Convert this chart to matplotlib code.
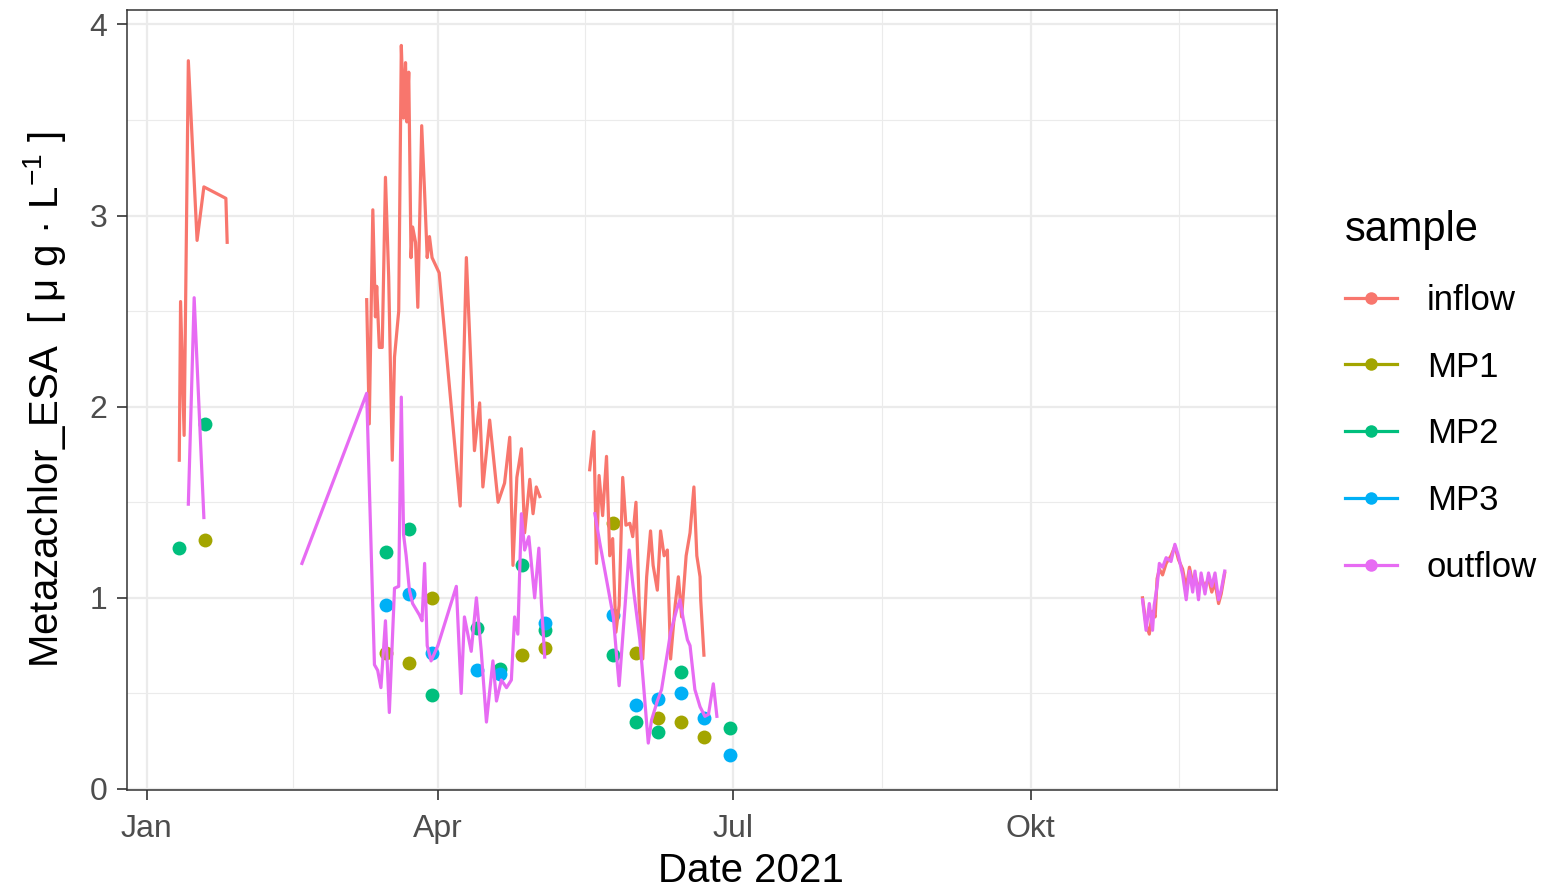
import numpy as np
import pandas as pd
import matplotlib
matplotlib.use('Agg')
import matplotlib.pyplot as plt
import matplotlib.dates as mdates
from matplotlib.lines import Line2D

plt.rcParams['font.family'] = ['Liberation Sans', 'DejaVu Sans']
plt.rcParams['mathtext.fontset'] = 'custom'
plt.rcParams['mathtext.rm'] = 'Liberation Sans'

# ---------------- data (day offsets from 2021-01-01) ----------------
inflow_days = [10, 10.4, 11.5, 12.8, 15.5, 17.6, 24.4, 24.8,
               45,
               67.9, 68.7, 69.8, 70.6, 71.0, 71.8, 72.7, 73.7, 74.7, 75.8, 76.5, 77.8,
               78.6, 79.3, 79.9, 80.3, 80.9, 81.6, 82.1, 83.0, 83.7, 84.9, 85.8, 86.6,
               87.3, 88.1, 90.3, 96.8, 98.7, 101.2, 102.8, 103.8, 105.9, 108.5, 110.5,
               112.1, 113.1, 114.3, 115.7, 116.7, 118.3, 119.3, 120.3, 121.4,
               130,
               136.8, 138.1, 138.9, 139.7, 140.8, 142.0, 143.0, 143.9, 144.9, 145.9,
               147.0, 148.0, 149.2, 150.1, 151.1, 152.1, 153.2, 154.4, 155.6, 156.4,
               157.7, 158.7, 159.8, 160.8, 161.8, 163.2, 164.2, 165.2, 166.6, 167.8,
               169.0, 169.9, 170.9, 171.1, 172.1,
               240,
               307.6, 308.7, 309.7, 310.7, 311.5, 312.1, 312.8, 313.8, 314.9, 316.4,
               317.6, 318.7, 320.0, 321.1, 322.1, 323.1, 323.8, 324.9, 325.7, 326.9,
               328.0, 329.0, 330.0, 331.1, 331.9, 333.0]
inflow_vals = [1.72, 2.55, 1.85, 3.81, 2.87, 3.15, 3.09, 2.86,
               np.nan,
               2.56, 1.91, 3.03, 2.47, 2.63, 2.31, 2.31, 3.20, 2.68, 1.72, 2.26, 2.50,
               3.89, 3.51, 3.80, 3.49, 3.75, 2.78, 2.94, 2.86, 2.52, 3.47, 3.12, 2.78,
               2.89, 2.78, 2.70, 1.48, 2.78, 1.77, 2.02, 1.58, 1.93, 1.50, 1.60,
               1.84, 1.17, 1.63, 1.78, 1.34, 1.62, 1.44, 1.58, 1.53,
               np.nan,
               1.67, 1.87, 1.18, 1.64, 1.43, 1.74, 1.22, 1.31, 0.82, 0.96,
               1.63, 1.38, 1.39, 1.32, 1.50, 0.96, 0.68, 1.11, 1.35, 1.17,
               1.04, 1.35, 1.22, 1.25, 0.68, 0.96, 1.11, 0.90, 1.22, 1.34,
               1.58, 1.22, 1.11, 0.99, 0.70,
               np.nan,
               1.00, 0.86, 0.81, 0.93, 0.90, 1.10, 1.15, 1.12, 1.18, 1.22,
               1.27, 1.20, 1.15, 1.05, 1.16, 1.08, 1.12, 1.04, 1.10, 1.06,
               1.10, 1.03, 1.08, 0.97, 1.02, 1.13]

outflow_days = [12.8, 14.6, 17.6,
                30,
                47.9, 67.9, 70.3, 71.3, 72.3, 73.7, 74.9, 76.5, 77.8, 78.6, 79.3, 80.1,
                81.1, 82.1, 84.2, 85.0, 85.8, 86.6, 87.8, 89.9, 95.6, 97.1, 98.1, 100.2,
                101.8, 103.3, 104.9, 106.9, 108.0, 109.5, 111.1, 112.6, 113.6, 114.6,
                115.7, 116.7, 118.0, 119.8, 121.1, 121.9, 122.9,
                130,
                138.4, 139.9, 144.1, 145.9, 149.0, 150.2, 152.3, 154.9, 155.9, 157.7,
                159.0, 160.8, 161.8, 163.7, 164.7, 165.7, 167.0, 167.8, 169.3, 170.9,
                172.4, 173.5, 175.0, 176.1,
                240,
                307.6, 308.7, 309.7, 310.7, 311.2, 312.1, 312.8, 313.8, 314.9, 316.4,
                317.6, 318.7, 320.0, 321.1, 322.1, 323.1, 323.8, 324.9, 325.7, 326.9,
                328.0, 329.0, 330.0, 331.1, 331.9, 333.0]
outflow_vals = [1.49, 2.57, 1.42,
                np.nan,
                1.18, 2.07, 0.65, 0.62, 0.53, 0.88, 0.40, 1.05, 1.06, 2.05, 1.33, 1.22,
                1.04, 0.97, 0.91, 0.88, 1.18, 0.75, 0.67, 0.75, 1.06, 0.50, 0.90, 0.72,
                1.00, 0.72, 0.35, 0.67, 0.46, 0.57, 0.53, 0.57, 0.90, 0.81,
                1.44, 1.25, 1.32, 1.00, 1.26, 0.97, 0.69,
                np.nan,
                1.44, 1.29, 0.90, 0.54, 1.25, 1.06, 0.78, 0.24, 0.36, 0.46,
                0.52, 0.71, 0.82, 0.94, 0.99, 0.89, 0.78, 0.75, 0.52, 0.43,
                0.38, 0.39, 0.55, 0.38,
                np.nan,
                0.99, 0.83, 0.97, 0.83, 0.96, 1.06, 1.18, 1.16, 1.21, 1.19,
                1.28, 1.22, 1.12, 0.99, 1.14, 1.03, 1.14, 0.99, 1.13, 1.02,
                1.13, 1.06, 1.13, 0.99, 1.04, 1.14]

sample_dates = ['2021-01-11', '2021-01-19', '2021-03-16', '2021-03-23', '2021-03-30',
                '2021-04-13', '2021-04-20', '2021-04-27', '2021-05-04', '2021-05-25',
                '2021-06-01', '2021-06-08', '2021-06-15', '2021-06-22', '2021-06-30']
mp1_vals = [np.nan, 1.30, 0.71, 0.66, 1.00, np.nan, np.nan, 0.70, 0.74, 1.39,
            0.71, 0.37, 0.35, 0.27, np.nan]
mp2_vals = [1.26, 1.91, 1.24, 1.36, 0.49, 0.84, 0.63, 1.17, 0.83, 0.70,
            0.35, 0.30, 0.61, np.nan, 0.32]
mp3_vals = [np.nan, np.nan, 0.96, 1.02, 0.71, 0.62, 0.60, np.nan, 0.87, 0.91,
            0.44, 0.47, 0.50, 0.37, 0.18]

series_names = ['inflow', 'MP1', 'MP2', 'MP3', 'outflow']
series_colors = ['#F8766D', '#A3A500', '#00BF7D', '#00B0F6', '#E76BF3']
x_tick_dates = ['2021-01-01', '2021-04-01', '2021-07-01', '2021-10-01']
x_tick_labels = ['Jan', 'Apr', 'Jul', 'Okt']
y_ticks = [0, 1, 2, 3, 4]

# ---------------- plotting ----------------
start = pd.Timestamp('2021-01-01')
def days_to_num(days):
    return mdates.date2num(start) + np.asarray(days, dtype=float)

col = dict(zip(series_names, series_colors))
W, H = 1545, 889
fig = plt.figure(figsize=(W / 100, H / 100), dpi=100)
ax = fig.add_axes([127 / W, 1 - 790 / H, 1150 / W, 780 / H])

lw = 2.3
ms = 10
sd = mdates.date2num(pd.to_datetime(sample_dates))
for name, vals in [('MP1', mp1_vals), ('MP2', mp2_vals), ('MP3', mp3_vals)]:
    ax.plot(sd, vals, linestyle='none', marker='o', ms=ms, color=col[name],
            markeredgewidth=0, zorder=3)
ax.plot(days_to_num(inflow_days), inflow_vals, color=col['inflow'], lw=lw, zorder=4,
        solid_joinstyle='round')
ax.plot(days_to_num(outflow_days), outflow_vals, color=col['outflow'], lw=lw, zorder=5,
        solid_joinstyle='round')

# limits with ggplot-like 5% expansion
all_x = np.concatenate([days_to_num(inflow_days), days_to_num(outflow_days), sd])
all_y = np.array(inflow_vals + outflow_vals + mp1_vals + mp2_vals + mp3_vals, dtype=float)
xmin, xmax = np.nanmin(all_x), np.nanmax(all_x)
ymin, ymax = np.nanmin(all_y), np.nanmax(all_y)
ax.set_xlim(xmin - 0.05 * (xmax - xmin), xmax + 0.05 * (xmax - xmin))
ax.set_ylim(ymin - 0.05 * (ymax - ymin), ymax + 0.05 * (ymax - ymin))

xt = mdates.date2num(pd.to_datetime(x_tick_dates))
ax.set_xticks(xt)
ax.set_xticklabels(x_tick_labels)
ax.set_xticks(list((xt[:-1] + xt[1:]) / 2) + [xt[-1] + 46], minor=True)
ax.set_yticks(y_ticks)
ax.set_yticks([0.5, 1.5, 2.5, 3.5], minor=True)

grid_c = '#EBEBEB'
ax.grid(which='major', color=grid_c, lw=1.6, zorder=0)
ax.grid(which='minor', color=grid_c, lw=0.8, zorder=0)
ax.set_axisbelow(True)
for s in ax.spines.values():
    s.set_color('#333333')
    s.set_linewidth(1.1)
ax.tick_params(which='major', length=7, width=1.2, color='#333333',
               labelsize=23, labelcolor='#4D4D4D', pad=7)
ax.tick_params(axis='x', which='major', pad=10)
ax.tick_params(which='minor', length=0)

ax.set_ylabel('Metazachlor_ESA  [ μ g · L$\\mathregular{^{-1}}$ ]', fontsize=29)
ax.yaxis.set_label_coords((68 - 127) / 1150, 0.5)
ax.set_xlabel('Date 2021', fontsize=29)
ax.xaxis.set_label_coords((751 - 127) / 1150, -0.079)

handles = [Line2D([], [], color=c, lw=lw, marker='o', ms=ms * 0.9, markeredgewidth=0)
           for c in series_colors]
leg = fig.legend(handles, series_names, title='sample', loc='upper left',
                 bbox_to_anchor=(1314 / W, 1 - 179 / H), frameon=False,
                 fontsize=25, title_fontsize=30, handlelength=1.5, handletextpad=0.85,
                 labelspacing=0.97, alignment='left')

fig.savefig('out.png', dpi=100)
